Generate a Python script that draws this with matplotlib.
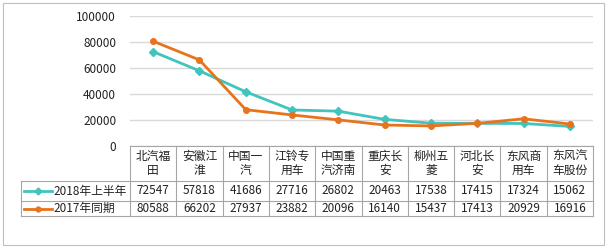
import matplotlib
matplotlib.use("Agg")
import matplotlib.pyplot as plt
from matplotlib.lines import Line2D
from matplotlib.patches import Rectangle

plt.rcParams['font.family'] = ['Noto Sans CJK SC', 'DejaVu Sans']

categories = ["北汽福田", "安徽江淮", "中国一汽", "江铃专用车", "中国重汽济南",
              "重庆长安", "柳州五菱", "河北长安", "东风商用车", "东风汽车股份"]
header_labels = ["北汽福\n田", "安徽江\n淮", "中国一\n汽", "江铃专\n用车", "中国重\n汽济南",
                 "重庆长\n安", "柳州五\n菱", "河北长\n安", "东风商\n用车", "东风汽\n车股份"]
series_names = ["2018年上半年", "2017年同期"]
h1_2018 = [72547, 57818, 41686, 27716, 26802, 20463, 17538, 17415, 17324, 15062]
same_2017 = [80588, 66202, 27937, 23882, 20096, 16140, 15437, 17413, 20929, 16916]
yticks = [0, 20000, 40000, 60000, 80000, 100000]

TEAL = "#3FC4BE"
ORANGE = "#E8731E"
GRID = "#D9D9D9"
BORDER = "#A6A6A6"
FS = 8.5

W, H = 609, 247
fig = plt.figure(figsize=(W / 100, H / 100), dpi=100)


def fx(px):
    return px / W


def fy(py):
    return 1 - py / H


# plot area (pixel coords of the reference)
x0, x1 = 130, 593
ytop, ybot = 16, 146
ax = fig.add_axes([fx(x0), fy(ybot), fx(x1) - fx(x0), fy(ytop) - fy(ybot)])
ax.set_xlim(-0.5, len(categories) - 0.5)
ax.set_ylim(0, 100000)
for s in ax.spines.values():
    s.set_visible(False)
ax.set_xticks([])
ax.set_yticks(yticks)
ax.set_yticklabels([str(v) for v in yticks], fontsize=FS, color="#222222")
ax.tick_params(axis="y", length=0, pad=10)
ax.yaxis.grid(True, color=GRID, lw=1)
ax.set_axisbelow(True)
ax.patch.set_alpha(0)

xs = list(range(len(categories)))
ax.plot(xs, h1_2018, color=TEAL, lw=2, marker="D", ms=4, zorder=3)
ax.plot(xs, same_2017, color=ORANGE, lw=2, marker="o", ms=4, zorder=4)

# data table under the plot
col_w = (x1 - x0) / len(categories)
r_head, r1, r2, r3 = 146, 181, 201, 216
leg_x = 21
lc = dict(color=BORDER, lw=0.8, transform=fig.transFigure)
# horizontal lines
fig.add_artist(Line2D([fx(x0), fx(x1)], [fy(r_head)] * 2, **lc))
for r in (r1, r2, r3):
    fig.add_artist(Line2D([fx(leg_x), fx(x1)], [fy(r)] * 2, **lc))
# vertical lines
fig.add_artist(Line2D([fx(leg_x)] * 2, [fy(r1), fy(r3)], **lc))
for i in range(len(categories) + 1):
    xp = x0 + i * col_w
    fig.add_artist(Line2D([fx(xp)] * 2, [fy(r_head), fy(r3)], **lc))

for i, lab in enumerate(header_labels):
    cx = x0 + (i + 0.5) * col_w
    fig.text(fx(cx), fy((r_head + r1) / 2), lab, ha="center", va="center",
             fontsize=FS, linespacing=1.15, color="#222222")
    fig.text(fx(cx), fy((r1 + r2) / 2), str(h1_2018[i]), ha="center", va="center",
             fontsize=FS, color="#222222")
    fig.text(fx(cx), fy((r2 + r3) / 2), str(same_2017[i]), ha="center", va="center",
             fontsize=FS, color="#222222")

# legend keys in the first column
for name, col, mk, (ra, rb) in [(series_names[0], TEAL, "D", (r1, r2)),
                                 (series_names[1], ORANGE, "o", (r2, r3))]:
    ym = fy((ra + rb) / 2)
    fig.add_artist(Line2D([fx(24), fx(52)], [ym, ym], color=col, lw=2,
                          transform=fig.transFigure))
    fig.add_artist(Line2D([fx(38)], [ym], color=col, marker=mk, ms=3.5,
                          transform=fig.transFigure))
    fig.text(fx(53), ym, name, ha="left", va="center", fontsize=FS, color="#222222")

# outer chart border
fig.add_artist(Rectangle((fx(3), fy(245)), fx(604) - fx(3), fy(3) - fy(245),
                         fill=False, ec="#BFBFBF", lw=0.8, transform=fig.transFigure))

fig.savefig("out.png", dpi=100)
